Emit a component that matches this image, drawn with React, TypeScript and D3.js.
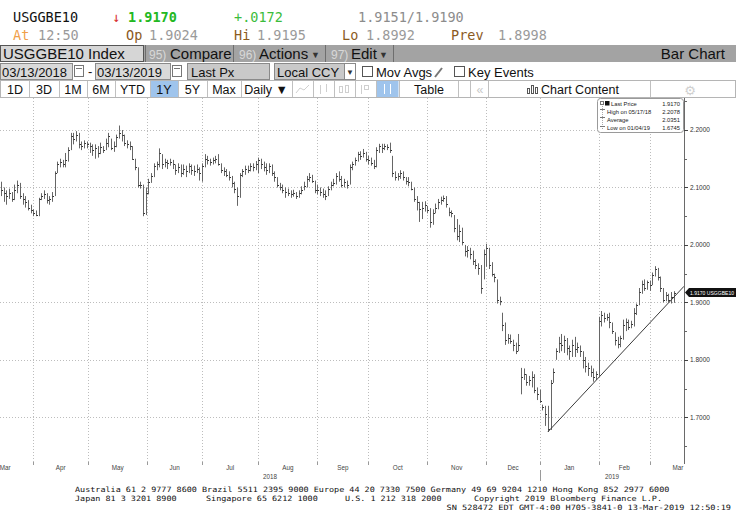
import React from "react"
import * as d3 from "d3"

// daily bars, 03/13/2018 .. 03/13/2019
const highs = [
	2.110, 2.100, 2.095, 2.098, 2.092, 2.105, 2.112, 2.108, 2.090, 2.085,
	2.078, 2.070, 2.062, 2.060, 2.082, 2.090, 2.095, 2.090, 2.085, 2.092,
	2.128, 2.145, 2.150, 2.148, 2.160, 2.170, 2.195, 2.195, 2.198, 2.195,
	2.180, 2.182, 2.180, 2.178, 2.175, 2.175, 2.172, 2.178, 2.172, 2.185,
	2.195, 2.185, 2.180, 2.192, 2.2078, 2.200, 2.192, 2.182, 2.180, 2.172,
	2.150, 2.135, 2.110, 2.105, 2.100, 2.115, 2.125, 2.142, 2.145, 2.168,
	2.158, 2.150, 2.148, 2.150, 2.148, 2.140, 2.142, 2.140, 2.140, 2.138,
	2.142, 2.140, 2.138, 2.140, 2.135, 2.142, 2.158, 2.155, 2.150, 2.152,
	2.155, 2.158, 2.142, 2.135, 2.132, 2.128, 2.120, 2.110, 2.100, 2.125,
	2.132, 2.138, 2.138, 2.142, 2.142, 2.146, 2.152, 2.150, 2.145, 2.142,
	2.142, 2.140, 2.128, 2.118, 2.108, 2.105, 2.100, 2.098, 2.095, 2.096,
	2.092, 2.095, 2.102, 2.110, 2.120, 2.125, 2.122, 2.112, 2.105, 2.100,
	2.098, 2.095, 2.102, 2.110, 2.115, 2.125, 2.128, 2.120, 2.115, 2.112,
	2.140, 2.145, 2.152, 2.162, 2.163, 2.167, 2.162, 2.155, 2.152, 2.148,
	2.170, 2.176, 2.176, 2.176, 2.175, 2.178, 2.155, 2.128, 2.125, 2.130,
	2.128, 2.118, 2.118, 2.110, 2.100, 2.085, 2.075, 2.075, 2.076, 2.068,
	2.064, 2.062, 2.072, 2.080, 2.084, 2.086, 2.085, 2.065, 2.060, 2.052,
	2.045, 2.035, 2.030, 2.000, 1.998, 1.995, 1.990, 1.975, 1.968, 1.965,
	1.992, 2.002, 1.995, 1.970, 1.950, 1.940, 1.910, 1.882, 1.865, 1.845,
	1.844, 1.835, 1.830, 1.845, 1.786, 1.785, 1.775, 1.772, 1.780, 1.775,
	1.752, 1.748, 1.722, 1.720, 1.720, 1.765, 1.785, 1.820, 1.840, 1.845,
	1.842, 1.838, 1.825, 1.835, 1.840, 1.830, 1.825, 1.815, 1.805, 1.795,
	1.790, 1.785, 1.780, 1.875, 1.885, 1.882, 1.880, 1.882, 1.865, 1.848,
	1.840, 1.842, 1.870, 1.872, 1.870, 1.868, 1.890, 1.898, 1.925, 1.938,
	1.940, 1.938, 1.938, 1.952, 1.963, 1.960, 1.945, 1.925, 1.918, 1.915,
	1.918, 1.9195,
]
const lows = [
	2.085, 2.075, 2.070, 2.080, 2.075, 2.078, 2.090, 2.080, 2.070, 2.065,
	2.060, 2.055, 2.050, 2.050, 2.050, 2.078, 2.080, 2.072, 2.070, 2.075,
	2.085, 2.125, 2.135, 2.135, 2.135, 2.145, 2.165, 2.175, 2.180, 2.168,
	2.165, 2.168, 2.168, 2.160, 2.155, 2.150, 2.152, 2.158, 2.160, 2.165,
	2.170, 2.165, 2.162, 2.170, 2.185, 2.180, 2.172, 2.168, 2.165, 2.148,
	2.130, 2.100, 2.098, 2.050, 2.052, 2.088, 2.108, 2.118, 2.130, 2.135,
	2.132, 2.135, 2.132, 2.138, 2.132, 2.122, 2.125, 2.118, 2.122, 2.118,
	2.125, 2.122, 2.120, 2.125, 2.112, 2.110, 2.135, 2.140, 2.138, 2.140,
	2.142, 2.138, 2.125, 2.120, 2.118, 2.112, 2.100, 2.090, 2.068, 2.082,
	2.118, 2.122, 2.125, 2.128, 2.128, 2.130, 2.125, 2.132, 2.128, 2.122,
	2.125, 2.120, 2.110, 2.100, 2.095, 2.090, 2.082, 2.085, 2.082, 2.084,
	2.080, 2.082, 2.088, 2.095, 2.100, 2.110, 2.108, 2.090, 2.088, 2.085,
	2.082, 2.078, 2.085, 2.095, 2.102, 2.105, 2.110, 2.100, 2.100, 2.098,
	2.105, 2.130, 2.138, 2.145, 2.148, 2.152, 2.145, 2.140, 2.138, 2.132,
	2.135, 2.160, 2.160, 2.165, 2.165, 2.160, 2.118, 2.112, 2.112, 2.115,
	2.112, 2.105, 2.102, 2.095, 2.075, 2.060, 2.040, 2.045, 2.058, 2.055,
	2.030, 2.035, 2.055, 2.062, 2.070, 2.075, 2.065, 2.050, 2.048, 2.022,
	2.008, 2.005, 2.000, 1.980, 1.978, 1.975, 1.965, 1.958, 1.948, 1.915,
	1.940, 1.962, 1.958, 1.945, 1.935, 1.898, 1.895, 1.850, 1.826, 1.828,
	1.828, 1.815, 1.810, 1.815, 1.740, 1.765, 1.755, 1.755, 1.752, 1.742,
	1.730, 1.725, 1.712, 1.685, 1.6745, 1.678, 1.760, 1.800, 1.812, 1.815,
	1.812, 1.808, 1.800, 1.805, 1.805, 1.812, 1.805, 1.785, 1.778, 1.772,
	1.770, 1.762, 1.765, 1.772, 1.858, 1.865, 1.868, 1.855, 1.845, 1.825,
	1.820, 1.822, 1.835, 1.850, 1.852, 1.855, 1.858, 1.878, 1.895, 1.915,
	1.920, 1.922, 1.920, 1.930, 1.945, 1.938, 1.918, 1.900, 1.902, 1.900,
	1.898, 1.8992,
]
const closes = [
	2.095, 2.090, 2.085, 2.090, 2.080, 2.095, 2.105, 2.085, 2.080, 2.075,
	2.065, 2.060, 2.055, 2.052, 2.080, 2.085, 2.088, 2.078, 2.080, 2.085,
	2.125, 2.140, 2.145, 2.140, 2.148, 2.165, 2.190, 2.185, 2.192, 2.175,
	2.172, 2.178, 2.175, 2.172, 2.165, 2.168, 2.160, 2.170, 2.165, 2.178,
	2.190, 2.168, 2.172, 2.188, 2.195, 2.192, 2.178, 2.175, 2.172, 2.150,
	2.135, 2.105, 2.105, 2.055, 2.090, 2.110, 2.120, 2.138, 2.140, 2.160,
	2.140, 2.145, 2.142, 2.145, 2.140, 2.130, 2.135, 2.125, 2.132, 2.128,
	2.138, 2.130, 2.128, 2.132, 2.125, 2.138, 2.150, 2.148, 2.145, 2.148,
	2.150, 2.140, 2.130, 2.128, 2.122, 2.118, 2.108, 2.098, 2.085, 2.122,
	2.128, 2.132, 2.130, 2.138, 2.135, 2.140, 2.148, 2.140, 2.135, 2.130,
	2.138, 2.125, 2.118, 2.105, 2.100, 2.095, 2.092, 2.090, 2.088, 2.090,
	2.085, 2.090, 2.095, 2.102, 2.115, 2.118, 2.112, 2.095, 2.095, 2.092,
	2.088, 2.085, 2.098, 2.105, 2.108, 2.120, 2.115, 2.105, 2.110, 2.105,
	2.135, 2.140, 2.148, 2.158, 2.155, 2.160, 2.150, 2.148, 2.142, 2.138,
	2.165, 2.172, 2.168, 2.172, 2.170, 2.165, 2.125, 2.118, 2.120, 2.125,
	2.118, 2.112, 2.110, 2.098, 2.080, 2.075, 2.062, 2.065, 2.070, 2.060,
	2.040, 2.055, 2.065, 2.075, 2.078, 2.082, 2.072, 2.058, 2.055, 2.030,
	2.015, 2.025, 2.005, 1.990, 1.992, 1.985, 1.972, 1.965, 1.960, 1.925,
	1.985, 1.995, 1.965, 1.950, 1.945, 1.905, 1.902, 1.860, 1.835, 1.838,
	1.832, 1.825, 1.815, 1.825, 1.770, 1.775, 1.762, 1.765, 1.770, 1.748,
	1.740, 1.728, 1.718, 1.705, 1.680, 1.760, 1.778, 1.815, 1.830, 1.825,
	1.835, 1.820, 1.815, 1.825, 1.818, 1.822, 1.815, 1.800, 1.790, 1.785,
	1.778, 1.770, 1.775, 1.868, 1.878, 1.872, 1.875, 1.865, 1.850, 1.835,
	1.828, 1.838, 1.860, 1.865, 1.858, 1.862, 1.882, 1.895, 1.918, 1.932,
	1.925, 1.935, 1.930, 1.948, 1.958, 1.945, 1.925, 1.905, 1.912, 1.905,
	1.910, 1.917,
]

const monthNames = ["Mar", "Apr", "May", "Jun", "Jul", "Aug", "Sep", "Oct", "Nov", "Dec", "Jan", "Feb", "Mar"]
// bar position where each month starts (first / last = edges of the partial months)
const monthStarts = [-9, 12, 32.5, 54.5, 75, 96, 118, 137, 159, 181, 201, 223, 242, 263]
const yearNames = ["2018", "2019"]
const yearBreak = 201
const yTicks = [1.7, 1.8, 1.9, 2.0, 2.1, 2.2]
const yMinorTicks = [1.65, 1.75, 1.85, 1.95, 2.05, 2.15, 2.25]
const trendLine: [number, number][] = [[204, 1.6745], [254.8, 1.928]]
const lastPrice = 1.917

const legendRows = [
	["Last Price", "1.9170"],
	["High on 05/17/18", "2.2078"],
	["Average", "2.0351"],
	["Low on 01/04/19", "1.6745"],
]
const periodButtons = ["1D", "3D", "1M", "6M", "YTD", "1Y", "5Y", "Max"]
const periodEdges = [1, 29, 59, 87, 115, 150, 178, 207, 241]

const footerLine1 = "Australia 61 2 9777 8600 Brazil 5511 2395 9000 Europe 44 20 7330 7500 Germany 49 69 9204 1210 Hong Kong 852 2977 6000"
const footerLine2 = ["Japan 81 3 3201 8900", "Singapore 65 6212 1000", "U.S. 1 212 318 2000", "Copyright 2019 Bloomberg Finance L.P."]
const footerLine3 = "SN 528472 EDT  GMT-4:00 H705-3841-0 13-Mar-2019 12:50:19"

const mono = "'DejaVu Sans Mono', monospace"
const sans = "'Liberation Sans', Arial, sans-serif"

const App = () => {
	const W = 736
	const H = 530
	const plotTop = 98
	const plotBottom = 462
	const plotRight = 684

	const x = d3.scaleLinear().domain([-0.4, 254.8]).range([0, plotRight])
	const y = d3.scaleLinear().domain([1.7, 2.2]).range([417.3, 130])
	const fmt = d3.format(".4f")
	const px = (v: number) => Math.round(v) + 0.5

	const monthMid = monthNames.map((m, i) => (monthStarts[i] + monthStarts[i + 1]) / 2)
	const gridMonths = monthStarts.slice(1, -1)
	const yearMid = [(x(-0.4) + x(yearBreak)) / 2, (x(yearBreak) + plotRight) / 2]

	const yLast = y(lastPrice)
	const charW = 5.08 // footer pitch
	const line2X = [75, 206, 345, 474]

	return (
		<div style={{ position: "fixed", left: 0, top: 0, width: W, height: H, background: "#fff" }}>
			<svg width={W} height={H} style={{ display: "block" }}>
				{/* quote header */}
				<g fontFamily={mono} fontSize={13.5}>
					<text x={13} y={22} fill="#111">USGGBE10</text>
					<text x={112} y={22} fill="#d83030">↓</text>
					<text x={128} y={22} fill="#22b822" fontWeight="bold">1.9170</text>
					<text x={234} y={22} fill="#3cbc3c">+.0172</text>
					<text x={358} y={22} fill="#8c8c8c">1.9151/1.9190</text>

					<text x={13} y={40} fill="#f0a04a">At</text>
					<text x={38} y={40} fill="#9a9a9a">12:50</text>
					<text x={126} y={40} fill="#8b5a1e">Op</text>
					<text x={149} y={40} fill="#9a9a9a">1.9024</text>
					<text x={234} y={40} fill="#8b5a1e">Hi</text>
					<text x={257} y={40} fill="#9a9a9a">1.9195</text>
					<text x={342} y={40} fill="#8b5a1e">Lo</text>
					<text x={366} y={40} fill="#9a9a9a">1.8992</text>
					<text x={451} y={40} fill="#8b5a1e">Prev</text>
					<text x={498} y={40} fill="#9a9a9a">1.8998</text>
				</g>

				{/* grey function bar */}
				<rect x={0} y={45} width={W} height={17} fill="#a3a3a3" />
				<rect x={0.5} y={45.5} width={143} height={16} fill="#d6d6d6" stroke="#555" />
				<g fontFamily={sans} fontSize={15}>
					<text x={3} y={59} fill="#111">USGGBE10 Index</text>
					<text x={149} y={59} fill="#d8d8d8" fontSize={12}>95)</text>
					<text x={170} y={59} fill="#111">Compare</text>
					<text x={239} y={59} fill="#d8d8d8" fontSize={12}>96)</text>
					<text x={259} y={59} fill="#111">Actions</text>
					<text x={311} y={58} fill="#333" fontSize={9}>▼</text>
					<text x={331} y={59} fill="#d8d8d8" fontSize={12}>97)</text>
					<text x={351} y={59} fill="#111">Edit</text>
					<text x={379} y={58} fill="#333" fontSize={9}>▼</text>
					<text x={725} y={59} fill="#111" textAnchor="end">Bar Chart</text>
				</g>
				{[145, 233, 325, 393].map((s) => (
					<line key={s} x1={s + 0.5} x2={s + 0.5} y1={45} y2={62} stroke="#6e6e6e" />
				))}

				{/* date range row */}
				<g fontFamily={sans} fontSize={13}>
					<rect x={0.5} y={63.5} width={72} height={16} fill="#d9d9d9" stroke="#8a8a8a" />
					<text x={2} y={77} fill="#111">03/13/2018</text>
					<rect x={74.5} y={65.5} width={9} height={11} fill="#fff" stroke="#777" />
					<line x1={76} x2={82} y1={68.5} y2={68.5} stroke="#777" />
					<text x={88} y={76} fill="#111">-</text>
					<rect x={95.5} y={63.5} width={75} height={16} fill="#d9d9d9" stroke="#8a8a8a" />
					<text x={97} y={77} fill="#111">03/13/2019</text>
					<rect x={172.5} y={65.5} width={9} height={11} fill="#fff" stroke="#777" />
					<line x1={174} x2={180} y1={68.5} y2={68.5} stroke="#777" />
					<rect x={187.5} y={63.5} width={82} height={16} fill="#c9c9c9" stroke="#8a8a8a" />
					<text x={191} y={77} fill="#111">Last Px</text>
					<rect x={274.5} y={63.5} width={70} height={16} fill="#c9c9c9" stroke="#8a8a8a" />
					<text x={277} y={77} fill="#111">Local CCY</text>
					<rect x={344.5} y={63.5} width={11} height={16} fill="#fff" stroke="#8a8a8a" />
					<text x={350} y={75} fill="#333" fontSize={8} textAnchor="middle">▼</text>
					<rect x={362.5} y={66.5} width={10} height={10} fill="#fff" stroke="#555" />
					<text x={376} y={77} fill="#111">Mov Avgs</text>
					<line x1={435} x2={442} y1={77} y2={68} stroke="#777" strokeWidth={2} />
					<rect x={454.5} y={66.5} width={10} height={10} fill="#fff" stroke="#555" />
					<text x={468} y={77} fill="#111">Key Events</text>
				</g>

				{/* period buttons row */}
				<rect x={0.5} y={80.5} width={735} height={17} fill="#fff" stroke="#b5b5b5" />
				<rect x={periodEdges[5] + 0.5} y={81} width={28} height={16} fill="#9fc4ec" />
				<rect x={376.5} y={81} width={22} height={16} fill="#9fc4ec" />
				<g fontFamily={sans} fontSize={12.5} fill="#111" textAnchor="middle">
					{periodButtons.map((b, i) => (
						<text key={b} x={(periodEdges[i] + periodEdges[i + 1]) / 2} y={94}>{b}</text>
					))}
					<text x={266} y={94}>Daily ▼</text>
					<text x={429} y={94}>Table</text>
					<text x={480} y={94} fill="#c8c8c8">«</text>
					<text x={580} y={94}>Chart Content</text>
					<text x={690} y={95} fill="#d0d0d0" fontFamily="'DejaVu Sans'" fontSize={13}>⚙</text>
				</g>
				{[...periodEdges.slice(1), 292, 313, 334, 355, 376, 399, 458, 470, 488, 650].map((s) => (
					<line key={s} x1={s + 0.5} x2={s + 0.5} y1={81} y2={97} stroke="#c0c0c0" />
				))}
				{/* toolbar icons, greyed */}
				<g stroke="#cfcfcf" fill="none">
					<polyline points="296,93 300,88 304,90 309,85" />
					<line x1={320.5} x2={320.5} y1={85} y2={94} />
					<line x1={326.5} x2={326.5} y1={84} y2={92} />
					<rect x={339.5} y={86.5} width={3} height={6} />
					<rect x={345.5} y={85.5} width={3} height={7} />
					<line x1={361.5} x2={361.5} y1={85} y2={94} />
					<rect x={364.5} y={85.5} width={4} height={4} />
					<line x1={384.5} x2={384.5} y1={84} y2={94} stroke="#fff" />
					<line x1={390.5} x2={390.5} y1={84} y2={94} stroke="#fff" />
				</g>
				<g stroke="#555" fill="none">
					<rect x={527.5} y={88.5} width={2} height={5} />
					<rect x={531.5} y={85.5} width={2} height={8} />
					<rect x={535.5} y={87.5} width={2} height={6} />
				</g>

				{/* grid */}
				<g stroke="#bdbdbd" strokeDasharray="1,2">
					{yTicks.map((t) => (
						<line key={t} x1={0} x2={plotRight} y1={px(y(t))} y2={px(y(t))} />
					))}
					{gridMonths.map((m) => (
						<line key={m} x1={px(x(m))} x2={px(x(m))} y1={plotTop} y2={plotBottom} />
					))}
				</g>

				{/* bars */}
				<g stroke="#666" strokeWidth={1}>
					{closes.map((c, i) => (
						<g key={i}>
							<line x1={px(x(i))} x2={px(x(i))} y1={y(highs[i])} y2={y(lows[i])} />
							<line x1={px(x(i))} x2={px(x(i)) + 1.5} y1={px(y(c))} y2={px(y(c))} stroke="#333" />
						</g>
					))}
				</g>

				{/* support trend line */}
				<line
					x1={x(trendLine[0][0])}
					y1={y(trendLine[0][1])}
					x2={x(trendLine[1][0])}
					y2={y(trendLine[1][1])}
					stroke="#3a3a3a"
					strokeWidth={1}
				/>

				{/* right axis */}
				<line x1={plotRight + 0.5} x2={plotRight + 0.5} y1={plotTop} y2={plotBottom + 2} stroke="#6a6a6a" />
				<g fontFamily={sans} fontSize={6.5} fill="#333">
					{yTicks.map((t) => (
						<g key={t}>
							<line x1={plotRight} x2={plotRight + 4} y1={px(y(t))} y2={px(y(t))} stroke="#444" />
							<text x={plotRight + 6} y={y(t) + 2.3}>{fmt(t)}</text>
						</g>
					))}
				</g>
				{yMinorTicks.map((t) => (
					<line key={t} x1={plotRight} x2={plotRight + 3} y1={px(y(t))} y2={px(y(t))} stroke="#666" />
				))}

				{/* last price tag */}
				<polygon
					points={`${plotRight + 1},${yLast} ${plotRight + 5},${yLast - 4.5} ${W},${yLast - 4.5} ${W},${yLast + 4.5} ${plotRight + 5},${yLast + 4.5}`}
					fill="#111"
				/>
				<text
					x={plotRight + 6}
					y={yLast + 2.2}
					fill="#fff"
					fontFamily={sans}
					fontSize={5.6}
					textLength={44}
					lengthAdjust="spacingAndGlyphs">
					{fmt(lastPrice)} USGGBE10
				</text>

				{/* bottom axis */}
				<g stroke="#9a9a9a">
					{gridMonths.map((m) => (
						<line key={m} x1={px(x(m))} x2={px(x(m))} y1={plotBottom} y2={plotBottom + 3} />
					))}
					<line x1={px(x(yearBreak))} x2={px(x(yearBreak))} y1={470} y2={481} />
				</g>
				<g fontFamily={sans} fontSize={6.3} fill="#444" textAnchor="middle">
					{monthNames.map((m, i) => (
						<text key={i} x={x(monthMid[i])} y={470}>{m}</text>
					))}
					{yearNames.map((yr, i) => (
						<text key={yr} x={yearMid[i]} y={479}>{yr}</text>
					))}
				</g>

				{/* legend */}
				<rect x={597.5} y={98.5} width={86} height={34} rx={3} fill="#fff" stroke="#9a9a9a" />
				<line x1={602.5} x2={602.5} y1={102} y2={129} stroke="#aaa" strokeDasharray="1,1" />
				<rect x={600.5} y={101.5} width={3} height={3} fill="#fff" stroke="#777" />
				<rect x={605} y={101} width={4.5} height={4.5} fill="#111" />
				<line x1={600} x2={605} y1={109.5} y2={109.5} stroke="#777" />
				<line x1={600} x2={605} y1={117.5} y2={117.5} stroke="#777" />
				<line x1={600} x2={605} y1={126.5} y2={126.5} stroke="#777" />
				<g fontFamily={sans} fontSize={5.8} fill="#222">
					{legendRows.map((r, i) => (
						<g key={r[0]}>
							<text x={i === 0 ? 611 : 607} y={105.5 + i * 8}>{r[0]}</text>
							<text x={680} y={105.5 + i * 8} textAnchor="end">{r[1]}</text>
						</g>
					))}
				</g>

				{/* footer */}
				<g fontFamily={mono} fontSize={7.3} fill="#111">
					<text x={75} y={492} textLength={footerLine1.length * charW} lengthAdjust="spacingAndGlyphs">
						{footerLine1}
					</text>
					{footerLine2.map((s, i) => (
						<text key={s} x={line2X[i]} y={501} textLength={s.length * charW} lengthAdjust="spacingAndGlyphs">
							{s}
						</text>
					))}
					<text
						x={731 - footerLine3.length * charW}
						y={510}
						textLength={footerLine3.length * charW}
						lengthAdjust="spacingAndGlyphs">
						{footerLine3}
					</text>
				</g>
			</svg>
		</div>
	)
}

export default App
